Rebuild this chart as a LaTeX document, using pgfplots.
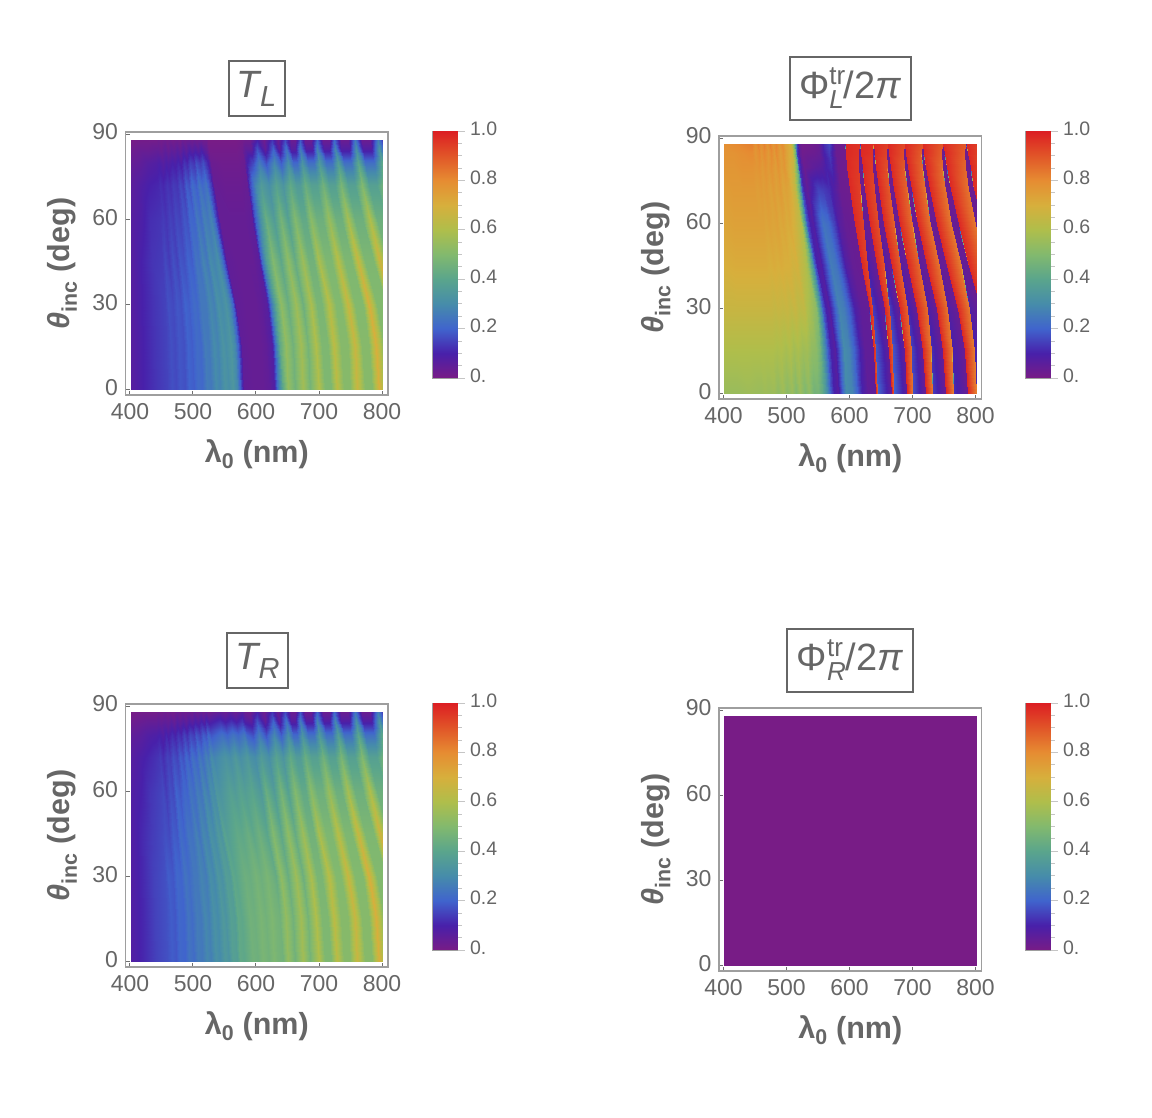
\documentclass[border=0pt]{standalone}
\usepackage{fontspec}
\setmainfont{Liberation Sans}
\usepackage{pgfplots}
\usepackage{pgfplotstable}
\pgfplotsset{compat=1.18}
\definecolor{txt}{gray}{0.40}
\definecolor{frm}{gray}{0.62}
\pgfplotsset{
  colormap={rb}{rgb255=(120,28,134) rgb255=(72,32,170) rgb255=(64,100,205) rgb255=(70,140,170)
    rgb255=(90,165,140) rgb255=(130,185,110) rgb255=(175,190,75) rgb255=(215,175,60)
    rgb255=(230,140,50) rgb255=(225,85,40) rgb255=(220,30,35)},
  fr/.style={scale only axis,width=262.5pt,height=263pt,
    xmin=392.9,xmax=809.5,ymin=-1.76,ymax=90.85,
    xtick={400,500,600,700,800},ytick={0,30,60,90},
    tick align=inside,major tick length=4pt,minor tick num=0,
    axis line style={frm,line width=1.5pt},tick style={frm!70!black,line width=1pt},
    xtick pos=bottom,ytick pos=left,
    tick label style={font=\fontsize{23}{24}\selectfont,text=txt},
    /pgf/number format/assume math mode=true,
    /pgf/number format/set thousands separator={},
    xticklabel style={yshift=-5pt},yticklabel style={xshift=-4pt,yshift=2.5pt},
    xlabel={\fontsize{30.5}{33}\selectfont\bfseries\textcolor{txt}{λ\textsubscript{0} (nm)}},
    ylabel={\fontsize{30.5}{33}\selectfont\bfseries\textcolor{txt}{\itshape θ\textsubscript{\upshape inc}\upshape{} (deg)}},
    xlabel style={yshift=-13pt},ylabel style={yshift=8.5pt}},
  dt/.style={scale only axis,width=252.5pt,height=250pt,hide axis,
    xmin=400,xmax=800,ymin=0,ymax=88,colormap name=rb,point meta min=0,point meta max=1},
  cb/.style={scale only axis,width=25pt,height=247pt,xmin=0,xmax=1,ymin=0,ymax=1,
    colormap name=rb,point meta min=0,point meta max=1,
    xtick=\empty,ytick pos=right,ytick={0,0.2,0.4,0.6,0.8,1},
    yticklabels={0.,0.2,0.4,0.6,0.8,1.0},minor ytick={0.05,0.1,0.15,0.25,0.3,0.35,0.45,0.5,0.55,0.65,0.7,0.75,0.85,0.9,0.95},
    tick align=outside,major tick length=7pt,minor tick length=4pt,
    axis line style={frm,line width=.6pt},tick style={frm!60,line width=.8pt},
    yticklabel style={font=\fontsize{19.5}{21}\selectfont,text=txt,yshift=2.5pt,xshift=2pt}},
  heat/.style={surf,shader=interp,mesh/ordering=y varies,mesh/rows=9,mesh/cols=#1,point meta=explicit},
}
\newcommand{\frameaxis}[2]{\begin{axis}[fr,at={(125.5pt+#1pt,723pt-#2pt)},anchor=south west]\end{axis}}
\newcommand{\cbaxis}[2]{\begin{axis}[cb,at={(432.5pt+#1pt,740pt-#2pt)},anchor=south west]
  \addplot[surf,shader=interp,mesh/rows=2,mesh/cols=2,point meta=explicit] table[meta index=2,row sep=crcr] {
x y v\\
0 0 0\\
1 0 0\\
0 1 1\\
1 1 1\\
};
\end{axis}}
% transmittance, sampled along the fringes: wavelength, angle, T_L, T_R
\pgfplotstableread{
x y tl tr
400 0 .07 .08
400 15 .07 .08
400 30 .07 .08
400 45 .07 .08
400 60 .07 .08
400 72 .06 .07
400 80 .04 .05
400 85 .02 .02
400 88 .00 .00
420 0 .10 .11
420 15 .10 .11
419 30 .10 .11
417 45 .10 .11
416 60 .09 .10
415 72 .08 .09
414 80 .05 .06
414 85 .03 .03
414 88 .01 .01
440 0 .13 .15
439 15 .13 .15
437 30 .13 .15
434 45 .13 .14
431 60 .12 .13
429 72 .10 .11
428 80 .07 .08
427 85 .03 .04
427 88 .01 .01
458 0 .15 .17
457 15 .15 .17
454 30 .15 .17
450 45 .14 .16
446 60 .13 .15
443 72 .11 .13
441 80 .08 .09
440 85 .04 .04
440 88 .01 .01
465 0 .17 .19
464 15 .17 .19
460 30 .17 .19
455 45 .16 .17
451 60 .14 .16
447 72 .12 .14
445 80 .09 .10
444 85 .04 .05
444 88 .02 .02
472 0 .16 .18
470 15 .16 .18
467 30 .16 .18
461 45 .14 .16
456 60 .13 .14
452 72 .11 .12
451 80 .07 .08
449 85 .03 .04
449 88 .01 .01
479 0 .18 .21
477 15 .18 .21
474 30 .18 .21
467 45 .17 .19
462 60 .15 .17
458 72 .13 .15
456 80 .09 .11
455 85 .05 .05
454 88 .02 .02
486 0 .17 .20
484 15 .17 .20
480 30 .17 .20
473 45 .15 .18
467 60 .14 .16
462 72 .12 .14
460 80 .08 .09
459 85 .03 .04
458 88 .01 .01
493 0 .20 .24
491 15 .20 .24
486 30 .20 .24
479 45 .18 .22
472 60 .16 .20
467 72 .14 .17
465 80 .10 .12
464 85 .05 .06
463 88 .02 .02
500 0 .19 .22
498 15 .19 .22
493 30 .19 .22
485 45 .17 .20
478 60 .15 .18
473 72 .13 .15
470 80 .09 .10
469 85 .04 .04
468 88 .01 .01
507 0 .22 .26
505 15 .22 .26
500 30 .22 .25
491 45 .20 .24
484 60 .18 .21
478 72 .16 .19
475 80 .11 .13
474 85 .06 .07
473 88 .02 .03
514 0 .21 .25
511 15 .21 .25
506 30 .21 .25
497 45 .19 .23
489 60 .17 .20
483 72 .14 .17
480 80 .09 .11
479 85 .04 .05
478 88 .01 .02
521 0 .26 .29
518 15 .26 .29
512 30 .25 .28
503 45 .24 .27
494 60 .21 .24
488 72 .19 .21
485 80 .13 .15
483 85 .07 .07
482 88 .03 .03
528 0 .25 .27
525 15 .25 .27
519 30 .25 .26
509 45 .23 .24
500 60 .20 .22
493 72 .17 .18
490 80 .11 .12
488 85 .05 .05
487 88 .02 .02
535 0 .30 .32
532 15 .30 .32
526 30 .29 .31
515 45 .28 .29
505 60 .25 .26
498 72 .22 .23
495 80 .15 .16
493 85 .08 .08
492 88 .03 .03
542 0 .28 .30
539 15 .28 .30
532 30 .27 .29
521 45 .25 .27
511 60 .22 .24
504 72 .19 .20
500 80 .13 .14
498 85 .06 .06
497 88 .02 .02
549 0 .33 .35
546 15 .33 .35
538 30 .32 .34
526 45 .30 .32
516 60 .27 .29
508 72 .24 .25
504 80 .17 .18
502 85 .08 .09
501 88 .03 .04
556 0 .31 .33
552 15 .31 .33
545 30 .30 .32
532 45 .28 .30
522 60 .25 .26
513 72 .21 .22
510 80 .14 .15
507 85 .06 .07
506 88 .02 .02
563 0 .34 .38
559 15 .34 .38
552 30 .33 .37
539 45 .31 .35
527 60 .28 .31
519 72 .24 .27
515 80 .17 .19
512 85 .09 .10
511 88 .03 .04
569 0 .29 .37
565 15 .29 .37
557 30 .28 .36
544 45 .26 .33
532 60 .23 .30
523 72 .20 .25
519 80 .13 .17
516 85 .06 .07
515 88 .02 .02
574 0 .20 .42
570 15 .20 .42
562 30 .20 .41
548 45 .18 .39
536 60 .16 .34
527 72 .14 .30
523 80 .10 .21
520 85 .05 .11
519 88 .02 .04
580 0 .05 .41
576 15 .05 .41
567 30 .05 .40
553 45 .05 .37
541 60 .04 .33
532 72 .04 .28
527 80 .03 .18
524 85 .01 .08
523 88 .00 .02
594 0 .04 .46
590 15 .04 .46
582 30 .04 .45
569 45 .04 .42
557 60 .04 .38
549 72 .03 .33
545 80 .02 .23
542 85 .01 .12
541 88 .00 .05
602 0 .04 .45
598 15 .04 .45
590 30 .04 .44
577 45 .04 .41
565 60 .04 .36
557 72 .03 .31
553 80 .02 .20
550 85 .01 .09
549 88 .00 .03
610 0 .04 .48
606 15 .04 .48
599 30 .04 .47
586 45 .04 .44
574 60 .04 .39
566 72 .03 .35
562 80 .02 .24
559 85 .01 .12
558 88 .00 .06
619 0 .05 .46
615 15 .05 .46
607 30 .05 .45
594 45 .04 .41
582 60 .04 .37
574 72 .03 .31
570 80 .02 .21
567 85 .01 .09
566 88 .00 .03
628 0 .08 .49
624 15 .08 .49
617 30 .07 .48
604 45 .06 .45
592 60 .05 .40
584 72 .04 .35
580 80 .03 .25
577 85 .02 .13
576 88 .01 .07
634 0 .25 .47
630 15 .25 .47
622 30 .24 .46
609 45 .22 .43
597 60 .18 .38
589 72 .16 .32
585 80 .10 .20
582 85 .05 .08
581 88 .02 .03
641 0 .42 .46
637 15 .42 .46
630 30 .41 .43
617 45 .38 .40
606 60 .33 .35
598 72 .28 .30
594 80 .16 .17
591 85 .05 .06
590 88 .02 .02
649 0 .54 .54
646 15 .54 .54
638 30 .53 .53
626 45 .50 .50
615 60 .44 .44
607 72 .36 .36
603 80 .26 .26
601 85 .17 .17
600 88 .10 .10
661 0 .46 .46
658 15 .46 .46
650 30 .44 .44
638 45 .41 .41
627 60 .36 .36
619 72 .31 .31
615 80 .17 .17
613 85 .05 .05
612 88 .02 .02
673 0 .57 .57
670 15 .57 .57
662 30 .56 .56
650 45 .53 .53
639 60 .47 .47
631 72 .39 .39
627 80 .29 .29
625 85 .20 .20
624 88 .13 .13
685 0 .47 .47
681 15 .47 .47
674 30 .45 .45
661 45 .43 .43
650 60 .38 .38
642 72 .33 .33
638 80 .19 .19
635 85 .06 .06
634 88 .03 .03
698 0 .60 .60
694 15 .60 .60
686 30 .59 .59
673 45 .56 .56
661 60 .50 .50
653 72 .42 .42
649 80 .31 .31
646 85 .23 .23
645 88 .16 .16
708 0 .49 .49
704 15 .49 .49
696 30 .48 .48
683 45 .46 .46
671 60 .42 .42
662 72 .36 .36
658 80 .21 .21
655 85 .07 .07
654 88 .03 .03
717 0 .49 .49
713 15 .49 .49
704 30 .48 .48
690 45 .46 .46
678 60 .42 .42
669 72 .36 .36
664 80 .21 .21
661 85 .07 .07
660 88 .03 .03
727 0 .63 .63
723 15 .63 .63
714 30 .62 .62
699 45 .59 .59
686 60 .52 .52
677 72 .44 .44
672 80 .33 .33
669 85 .25 .25
668 88 .18 .18
738 0 .51 .51
734 15 .51 .51
725 30 .50 .50
709 45 .49 .49
696 60 .45 .45
686 72 .38 .38
681 80 .23 .23
678 85 .08 .08
677 88 .03 .03
748 0 .51 .51
744 15 .51 .51
734 30 .50 .50
719 45 .49 .49
705 60 .45 .45
695 72 .38 .38
690 80 .23 .23
687 85 .08 .08
686 88 .03 .03
759 0 .66 .66
755 15 .66 .66
745 30 .66 .66
729 45 .62 .62
715 60 .55 .55
705 72 .46 .46
699 80 .35 .35
696 85 .27 .27
695 88 .20 .20
771 0 .51 .51
766 15 .51 .51
756 30 .50 .50
740 45 .49 .49
725 60 .45 .45
715 72 .38 .38
710 80 .23 .23
706 85 .08 .08
705 88 .03 .03
783 0 .51 .51
778 15 .51 .51
768 30 .50 .50
751 45 .49 .49
735 60 .45 .45
724 72 .38 .38
719 80 .23 .23
715 85 .08 .08
714 88 .03 .03
794 0 .70 .70
789 15 .70 .70
778 30 .70 .70
761 45 .66 .66
745 60 .58 .58
734 72 .48 .48
728 80 .37 .37
724 85 .28 .28
723 88 .21 .21
807 0 .51 .51
802 15 .51 .51
791 30 .50 .50
772 45 .49 .49
756 60 .45 .45
744 72 .38 .38
738 80 .23 .23
734 85 .08 .08
733 88 .03 .03
820 0 .51 .51
815 15 .51 .51
804 30 .50 .50
785 45 .49 .49
768 60 .45 .45
756 72 .38 .38
750 80 .23 .23
746 85 .08 .08
745 88 .03 .03
832 0 .72 .72
827 15 .72 .72
815 30 .72 .72
796 45 .68 .68
779 60 .60 .60
767 72 .50 .50
760 80 .40 .40
757 85 .31 .31
755 88 .25 .25
846 0 .51 .51
840 15 .51 .51
828 30 .50 .50
808 45 .49 .49
791 60 .45 .45
778 72 .38 .38
772 80 .23 .23
768 85 .08 .08
766 88 .03 .03
861 0 .51 .51
855 15 .51 .51
843 30 .50 .50
822 45 .49 .49
804 60 .45 .45
791 72 .38 .38
785 80 .23 .23
781 85 .08 .08
779 88 .03 .03
875 0 .74 .74
869 15 .74 .74
857 30 .74 .74
836 45 .70 .70
818 60 .61 .61
804 72 .51 .51
798 80 .41 .41
794 85 .33 .33
792 88 .27 .27
888 0 .51 .51
882 15 .51 .51
870 30 .50 .50
849 45 .49 .49
830 60 .45 .45
817 72 .38 .38
810 80 .23 .23
806 85 .08 .08
804 88 .03 .03
}\transm
% phase of T_L
\pgfplotstableread{
x y p
400 0 .55
400 15 .60
400 30 .66
400 45 .70
400 60 .73
400 72 .75
400 80 .77
400 85 .78
400 88 .79
420 0 .55
420 15 .60
419 30 .66
417 45 .71
416 60 .74
415 72 .76
414 80 .77
414 85 .78
414 88 .80
440 0 .56
439 15 .60
437 30 .66
434 45 .71
431 60 .74
429 72 .76
428 80 .78
427 85 .79
427 88 .81
458 0 .55
457 15 .60
454 30 .66
450 45 .71
446 60 .74
443 72 .76
441 80 .78
440 85 .80
440 88 .82
465 0 .56
464 15 .60
460 30 .66
455 45 .71
451 60 .74
447 72 .76
445 80 .78
444 85 .80
444 88 .82
472 0 .55
470 15 .60
467 30 .66
461 45 .71
456 60 .74
452 72 .75
451 80 .77
449 85 .77
449 88 .78
479 0 .56
477 15 .60
474 30 .66
467 45 .71
462 60 .74
458 72 .76
456 80 .78
455 85 .80
454 88 .82
486 0 .53
484 15 .59
480 30 .65
473 45 .70
467 60 .73
462 72 .75
460 80 .76
459 85 .77
458 88 .78
493 0 .56
491 15 .60
486 30 .66
479 45 .71
472 60 .74
467 72 .76
465 80 .78
464 85 .80
463 88 .82
500 0 .52
498 15 .58
493 30 .65
485 45 .70
478 60 .73
473 72 .74
470 80 .76
469 85 .76
468 88 .77
507 0 .55
505 15 .60
500 30 .66
491 45 .71
484 60 .74
478 72 .76
475 80 .78
474 85 .80
473 88 .82
514 0 .50
511 15 .57
506 30 .64
497 45 .70
489 60 .72
483 72 .74
480 80 .75
479 85 .76
478 88 .77
521 0 .55
518 15 .59
512 30 .66
503 45 .70
494 60 .73
488 72 .76
485 80 .78
483 85 .80
482 88 .81
528 0 .49
525 15 .56
519 30 .63
509 45 .68
500 60 .71
493 72 .73
490 80 .75
488 85 .75
487 88 .76
535 0 .53
532 15 .57
526 30 .64
515 45 .69
505 60 .72
498 72 .74
495 80 .77
493 85 .78
492 88 .80
542 0 .46
539 15 .53
532 30 .60
521 45 .65
511 60 .69
504 72 .72
500 80 .73
498 85 .74
497 88 .74
549 0 .47
546 15 .52
538 30 .57
526 45 .62
516 60 .66
508 72 .69
504 80 .70
502 85 .72
501 88 .72
556 0 .42
552 15 .46
545 30 .52
532 45 .58
522 60 .62
513 72 .64
510 80 .66
507 85 .68
506 88 .68
563 0 .30
559 15 .32
552 30 .34
539 45 .38
527 60 .42
519 72 .44
515 80 .46
512 85 .48
511 88 .48
569 0 .17
565 15 .18
557 30 .18
544 45 .18
532 60 .18
523 72 .16
519 80 .14
516 85 .14
515 88 .14
574 0 .10
570 15 .10
562 30 .10
548 45 .10
536 60 .10
527 72 .08
523 80 .06
520 85 .04
519 88 .04
580 0 .07
576 15 .07
567 30 .07
553 45 .08
541 60 .08
532 72 .05
527 80 .03
524 85 .02
523 88 .01
594 0 .30
590 15 .30
582 30 .28
569 45 .26
557 60 .24
549 72 .15
545 80 .06
542 85 .03
541 88 .02
602 0 .28
598 15 .28
590 30 .26
577 45 .24
565 60 .22
557 72 .14
553 80 .07
550 85 .04
549 88 .03
610 0 .20
606 15 .20
599 30 .18
586 45 .17
574 60 .15
566 72 .12
562 80 .10
559 85 .10
558 88 .12
619 0 .10
615 15 .10
607 30 .09
594 45 .08
582 60 .07
574 72 .08
570 80 .12
567 85 .14
566 88 .16
628 0 .05
624 15 .05
617 30 .05
604 45 .04
592 60 .04
584 72 .03
580 80 .03
577 85 .03
576 88 .03
641 0 .06
637.6 15 .05
630 30 .04
618 45 .03
607 60 .03
599 72 .02
595 80 .02
593 85 .02
592 88 .02
641.5 0 .98
638.1 15 .98
630.5 30 .98
618.5 45 .98
607.5 60 .98
599.5 72 .98
595.5 80 .98
593.5 85 .98
592.5 88 .98
642.9 0 .90
640.7 15 .90
635.5 30 .92
628.3 45 .93
621.4 60 .93
616 72 .94
613.7 80 .95
614.1 85 .96
615.5 88 .96
643.4 0 .20
641.2 15 .18
636 30 .14
628.8 45 .09
621.9 60 .05
616.5 72 .03
614.2 80 .02
614.6 85 .02
616 88 .02
665 0 .05
661.6 15 .04
654 30 .03
642 45 .03
631 60 .03
623 72 .03
619 80 .03
617 85 .03
616 88 .03
665.5 0 .98
662.1 15 .98
654.5 30 .98
642.5 45 .98
631.5 60 .98
623.5 72 .98
619.5 80 .98
617.5 85 .98
616.5 88 .98
669.5 0 .88
668 15 .88
663.1 30 .90
654.1 45 .91
645.5 60 .91
639 72 .92
636.1 80 .94
635.4 85 .96
636.5 88 .97
670 0 .20
668.5 15 .18
663.6 30 .14
654.6 45 .09
646 60 .05
639.5 72 .03
636.6 80 .02
635.9 85 .02
637 88 .02
690 0 .05
686.3 15 .04
678 30 .03
665 45 .03
653 60 .03
645 72 .03
641 80 .03
638 85 .03
637 88 .03
690.5 0 .98
686.8 15 .98
678.5 30 .98
665.5 45 .98
653.5 60 .98
645.5 72 .98
641.5 80 .98
638.5 85 .98
637.5 88 .98
698.2 0 .85
697.2 15 .85
691.5 30 .87
680.6 45 .88
670 60 .88
662.7 72 .89
658.9 80 .91
658.2 85 .93
659.5 88 .94
698.7 0 .17
697.7 15 .15
692 30 .11
681.1 45 .07
670.5 60 .05
663.2 72 .03
659.4 80 .02
658.7 85 .02
660 88 .02
719 0 .04
714.9 15 .03
706 30 .03
691 45 .03
678 60 .03
669 72 .03
664 80 .03
661 85 .03
660 88 .03
719.5 0 .98
715.4 15 .98
706.5 30 .98
691.5 45 .98
678.5 60 .98
669.5 72 .98
664.5 80 .98
661.5 85 .98
660.5 88 .98
730.7 0 .83
728.6 15 .84
722.5 30 .85
710 45 .86
698.4 60 .86
690.3 72 .87
685.6 80 .89
684.8 85 .91
686.5 88 .92
731.2 0 .14
729.1 15 .12
723 30 .09
710.5 45 .06
698.9 60 .04
690.8 72 .03
686.1 80 .02
685.3 85 .02
687 88 .02
751 0 .03
746.5 15 .03
737 30 .03
721 45 .03
707 60 .03
697 72 .03
691 80 .03
688 85 .03
687 88 .03
751.5 0 .98
747 15 .98
737.5 30 .98
721.5 45 .98
707.5 60 .98
697.5 72 .98
691.5 80 .98
688.5 85 .98
687.5 88 .98
764.5 0 .82
761.5 15 .83
754.6 30 .84
741.9 45 .84
728.1 60 .84
719.1 72 .85
714.3 80 .87
712.7 85 .89
714.5 88 .90
765 0 .12
762 15 .10
755.1 30 .08
742.4 45 .05
728.6 60 .04
719.6 72 .03
714.8 80 .02
713.2 85 .02
715 88 .02
786 0 .03
781 15 .03
770 30 .03
753 45 .03
737 60 .03
726 72 .03
720 80 .03
716 85 .03
715 88 .03
786.5 0 .98
781.5 15 .98
770.5 30 .98
753.5 45 .98
737.5 60 .98
726.5 72 .98
720.5 80 .98
716.5 85 .98
715.5 88 .98
800.7 0 .81
797.4 15 .82
789.8 30 .83
775.9 45 .83
761 60 .83
751.2 72 .84
745.7 80 .86
745.2 85 .88
746.5 88 .89
801.2 0 .12
797.9 15 .10
790.3 30 .08
776.4 45 .05
761.5 60 .04
751.7 72 .03
746.2 80 .02
745.7 85 .02
747 88 .02
824 0 .03
818.6 15 .03
807 30 .03
788 45 .03
771 60 .03
759 72 .03
752 80 .03
749 85 .03
747 88 .03
824.5 0 .98
819.1 15 .98
807.5 30 .98
788.5 45 .98
771.5 60 .98
759.5 72 .98
752.5 80 .98
749.5 85 .98
747.5 88 .98
840.7 0 .81
837.3 15 .82
829.6 30 .83
814.3 45 .83
798.6 60 .83
787.4 72 .84
782.7 80 .86
781.8 85 .88
783.5 88 .89
841.2 0 .12
837.8 15 .10
830.1 30 .08
814.8 45 .05
799.1 60 .04
787.9 72 .03
783.2 80 .02
782.3 85 .02
784 88 .02
867 0 .03
861.2 15 .03
849 30 .03
828 45 .03
810 60 .03
796 72 .03
790 80 .03
786 85 .03
784 88 .03
867.5 0 .98
861.7 15 .98
849.5 30 .98
828.5 45 .98
810.5 60 .98
796.5 72 .98
790.5 80 .98
786.5 85 .98
784.5 88 .98
886.5 0 .80
883 15 .81
874.9 30 .82
859 45 .82
841.9 60 .82
830.6 72 .83
824.8 80 .85
824.2 85 .87
826.5 88 .88
}\phase
\begin{document}
\begin{tikzpicture}[x=1pt,y=1pt]
\useasboundingbox (0,0) rectangle (1152,1118);
\frameaxis{0}{0}
\frameaxis{593.5}{4}
\frameaxis{0}{572}
\frameaxis{593.5}{576}
\cbaxis{0}{0}\cbaxis{593}{0}\cbaxis{0}{572}\cbaxis{593}{572}
\begin{axis}[dt,at={(130.5pt,728pt)},anchor=south west]
\addplot[heat=50] table[x=x,y=y,meta=tl] {\transm};
\end{axis}
\begin{axis}[dt,at={(130.5pt,728pt-572pt)},anchor=south west]
\addplot[heat=50] table[x=x,y=y,meta=tr] {\transm};
\end{axis}
\begin{axis}[dt,at={(130.5pt+593.5pt,728pt-4pt)},anchor=south west]
\addplot[heat=58] table[x=x,y=y,meta=p] {\phase};
\end{axis}
\begin{axis}[dt,at={(130.5pt+593.5pt,728pt-576pt)},anchor=south west]
\addplot[surf,shader=interp,mesh/ordering=y varies,mesh/rows=2,mesh/cols=2,point meta=explicit] table[meta index=2] {
x y v
400 0 0
400 88 0
800 0 0
800 88 0
};
\end{axis}
\tikzset{ttl/.style={draw=txt,line width=2pt,text=txt,inner sep=0pt,anchor=center}}
\node[ttl,minimum width=56pt,minimum height=55pt] at (256.5,1118-88.5) {\fontsize{38}{38}\selectfont\itshape T\raisebox{-9pt}{\fontsize{29}{29}\selectfont L}};
\node[ttl,minimum width=61pt,minimum height=55pt] at (257.5,1118-661) {\fontsize{38}{38}\selectfont\itshape T\raisebox{-9pt}{\fontsize{29}{29}\selectfont R}};
\node[ttl,minimum width=121pt,minimum height=63pt] at (850,1118-88.5) {\fontsize{38}{38}\selectfont Φ\rlap{\raisebox{14pt}{\fontsize{26}{26}\selectfont tr}}\raisebox{-10pt}{\fontsize{26}{26}\selectfont\itshape L}/2\itshape π};
\node[ttl,minimum width=126pt,minimum height=63pt] at (850,1118-660.5) {\fontsize{38}{38}\selectfont Φ\rlap{\raisebox{14pt}{\fontsize{26}{26}\selectfont tr}}\raisebox{-10pt}{\fontsize{26}{26}\selectfont\itshape R}/2\itshape π};
\end{tikzpicture}
\end{document}
